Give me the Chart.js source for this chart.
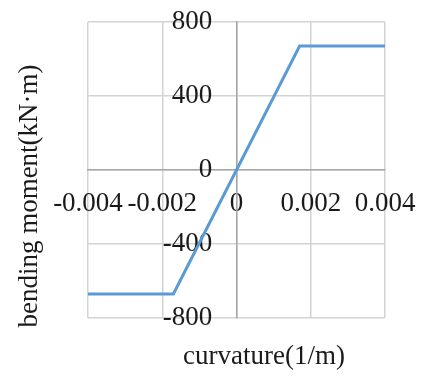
<!DOCTYPE html>
<html>
<head>
<meta charset="utf-8">
<script src="https://cdn.jsdelivr.net/npm/chart.js@4"></script>
<style>
  html, body { margin: 0; padding: 0; background: #fff; }
  #wrap { width: 425px; height: 376px; }
</style>
</head>
<body>
<div id="wrap"><canvas id="mc"></canvas></div>
<script>
// moment-curvature curve (elastic-perfectly plastic)
const curvature = [-0.004, -0.0017, 0.0017, 0.004];
const moment = [-670, -670, 670, 670];

const xTicks = [-0.004, -0.002, 0, 0.002, 0.004];
const yTicks = [-800, -400, 0, 400, 800];

const xTitle = 'curvature(1/m)';
const yTitle = 'bending moment(kN·m)';

const FONT = '"Liberation Serif", "Times New Roman", serif';

// axis titles drawn next to the plot area
const axisTitles = {
  id: 'axisTitles',
  afterDraw(chart) {
    const { ctx, chartArea: a } = chart;
    ctx.save();
    ctx.fillStyle = '#1a1a1a';
    ctx.font = '27px ' + FONT;
    ctx.textAlign = 'center';
    ctx.textBaseline = 'middle';
    ctx.fillText(xTitle, a.left + 176, a.bottom + 39);
    ctx.translate(a.left - 58, (a.top + a.bottom) / 2 + 26);
    ctx.rotate(-Math.PI / 2);
    ctx.fillText(yTitle, 0, 0);
    ctx.restore();
  }
};

// axes sit on the zero lines, so they take no room in the layout
const noRoom = s => {
  if (s.isHorizontal()) {
    s.height = 0;
    s.paddingLeft = 0;
    s.paddingRight = 0;
  } else {
    s.width = 0;
    s.paddingTop = 0;
    s.paddingBottom = 0;
  }
};

const gridStyle = { color: '#d3d3d3', lineWidth: 1.5, drawTicks: false };

new Chart(document.getElementById('mc'), {
  type: 'scatter',
  data: {
    datasets: [{
      data: curvature.map((c, i) => ({ x: c, y: moment[i] })),
      showLine: true,
      borderColor: '#5b9bd5',
      borderWidth: 3,
      pointRadius: 0,
      fill: false
    }]
  },
  options: {
    responsive: true,
    maintainAspectRatio: false,
    animation: false,
    layout: { padding: { left: 88, right: 40, top: 22, bottom: 58 } },
    plugins: { legend: { display: false }, tooltip: { enabled: false } },
    scales: {
      x: {
        type: 'linear',
        position: { y: 0 },
        min: -0.004,
        max: 0.004,
        afterBuildTicks: s => { s.ticks = xTicks.map(v => ({ value: v })); },
        afterFit: noRoom,
        grid: gridStyle,
        border: { display: true, color: '#a6a6a6', width: 1.5 },
        ticks: {
          autoSkip: false,
          maxRotation: 0,
          padding: 18,
          color: '#1a1a1a',
          font: { family: FONT, size: 27 },
          callback: v => String(v)
        }
      },
      y: {
        type: 'linear',
        position: { x: 0 },
        min: -800,
        max: 800,
        afterBuildTicks: s => { s.ticks = yTicks.map(v => ({ value: v })); },
        afterFit: noRoom,
        grid: gridStyle,
        border: { display: true, color: '#a6a6a6', width: 1.5 },
        ticks: {
          autoSkip: false,
          padding: 0,
          color: '#1a1a1a',
          font: { family: FONT, size: 27 },
          callback: v => String(v) + '\u2002\u2009\u2009'
        }
      }
    }
  },
  plugins: [axisTitles]
});
</script>
</body>
</html>
